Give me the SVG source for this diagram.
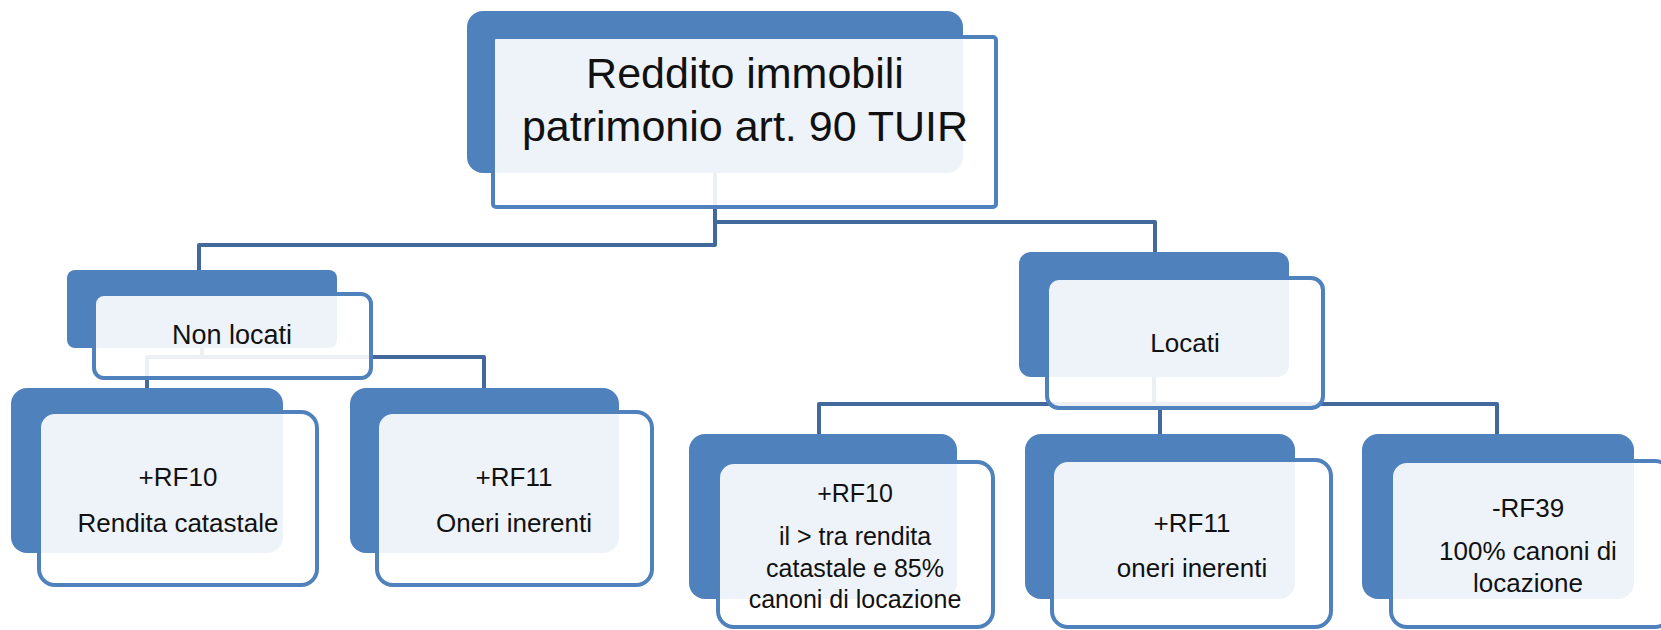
<svg xmlns="http://www.w3.org/2000/svg" width="1661" height="630" viewBox="0 0 1661 630">
<style>
.back{fill:#4F81BD;}
.front{fill:#FFFFFF;fill-opacity:0.9;stroke:#4F81BD;stroke-width:4;}
.conn{fill:none;stroke:#41699C;stroke-width:4;stroke-linejoin:round;}
text{font-family:"Liberation Sans",Arial,sans-serif;fill:#111111;text-anchor:middle;}
.big{font-size:43px;}
.sm{font-size:26px;}
.xs{font-size:25px;}
</style>
<rect width="1661" height="630" fill="#FFFFFF"/>
<g id="connectors">
<path class="conn" d="M715,173 V245 H199 V270"/>
<path class="conn" d="M715,222 H1155 V252"/>
<path class="conn" d="M202,348 V357"/>
<path class="conn" d="M147,388 V357 H484 V388"/>
<path class="conn" d="M1154,377 V404"/>
<path class="conn" d="M819,434 V404 H1497 V434"/>
<path class="conn" d="M1160,404 V434"/>
</g>
<g id="node-root">
<rect class="back" x="467" y="11" width="496" height="162" rx="16"/>
<rect class="front" x="493" y="37" width="503" height="170" rx="3"/>
<text class="big" x="745" y="88">Reddito immobili</text>
<text class="big" x="745" y="141">patrimonio art. 90 TUIR</text>
</g>
<g id="node-nonlocati">
<rect class="back" x="67" y="270" width="270" height="78" rx="8"/>
<rect class="front" x="94" y="294" width="277" height="84" rx="10"/>
<text class="sm" x="232" y="344" style="font-size:27px">Non locati</text>
</g>
<g id="node-nl-rf10">
<rect class="back" x="11" y="388" width="272" height="165" rx="16"/>
<rect class="front" x="39" y="412" width="278" height="173" rx="16"/>
<text class="sm" x="178" y="486">+RF10</text>
<text class="sm" x="178" y="532">Rendita catastale</text>
</g>
<g id="node-nl-rf11">
<rect class="back" x="350" y="388" width="269" height="165" rx="16"/>
<rect class="front" x="377" y="412" width="275" height="173" rx="16"/>
<text class="sm" x="514" y="486">+RF11</text>
<text class="sm" x="514" y="532">Oneri inerenti</text>
</g>
<g id="node-locati">
<rect class="back" x="1019" y="252" width="270" height="125" rx="12"/>
<rect class="front" x="1047" y="278" width="276" height="130" rx="12"/>
<text class="sm" x="1185" y="352">Locati</text>
</g>
<g id="node-l-rf10">
<rect class="back" x="689" y="434" width="268" height="165" rx="16"/>
<rect class="front" x="718" y="462" width="275" height="165" rx="16"/>
<text class="xs" x="855" y="502">+RF10</text>
<text class="xs" x="855" y="545">il &gt; tra rendita</text>
<text class="xs" x="855" y="577">catastale e 85%</text>
<text class="xs" x="855" y="608">canoni di locazione</text>
</g>
<g id="node-l-rf11">
<rect class="back" x="1025" y="434" width="270" height="165" rx="16"/>
<rect class="front" x="1052" y="460" width="279" height="167" rx="16"/>
<text class="sm" x="1192" y="532">+RF11</text>
<text class="sm" x="1192" y="577">oneri inerenti</text>
</g>
<g id="node-l-rf39">
<rect class="back" x="1362" y="434" width="272" height="165" rx="16"/>
<rect class="front" x="1391" y="461" width="280" height="166" rx="16"/>
<text class="sm" x="1528" y="517">-RF39</text>
<text class="sm" x="1528" y="560">100% canoni di</text>
<text class="sm" x="1528" y="592">locazione</text>
</g>
</svg>
